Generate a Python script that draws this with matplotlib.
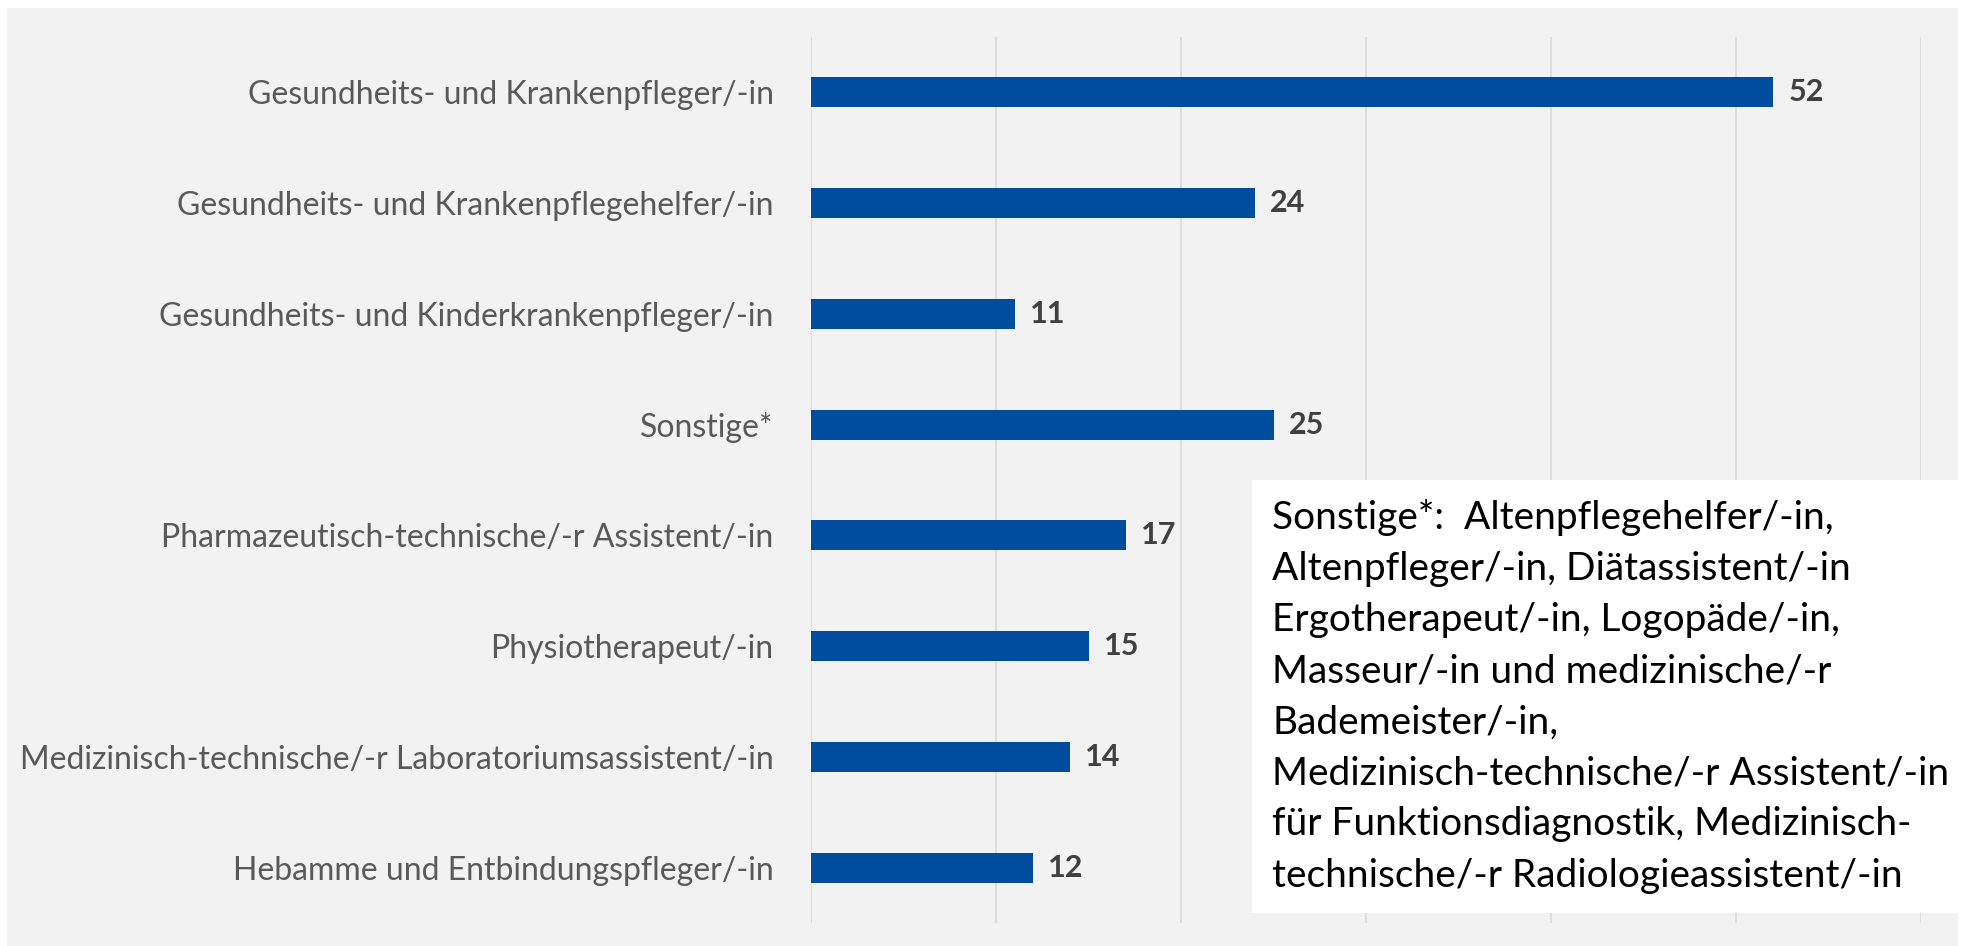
import matplotlib.pyplot as plt
from matplotlib.patches import Rectangle

categories = [
    "Gesundheits- und Krankenpfleger/-in",
    "Gesundheits- und Krankenpflegehelfer/-in",
    "Gesundheits- und Kinderkrankenpfleger/-in",
    "Sonstige*",
    "Pharmazeutisch-technische/-r Assistent/-in",
    "Physiotherapeut/-in",
    "Medizinisch-technische/-r Laboratoriumsassistent/-in",
    "Hebamme und Entbindungspfleger/-in",
]
values = [52, 24, 11, 25, 17, 15, 14, 12]
x_ticks = [0, 10, 20, 30, 40, 50, 60]

note_text = ("Sonstige*:  Altenpflegehelfer/-in,\n"
             "Altenpfleger/-in, Diätassistent/-in\n"
             "Ergotherapeut/-in, Logopäde/-in,\n"
             "Masseur/-in und medizinische/-r\n"
             "Bademeister/-in,\n"
             "Medizinisch-technische/-r Assistent/-in\n"
             "für Funktionsdiagnostik, Medizinisch-\n"
             "technische/-r Radiologieassistent/-in")

plt.rcParams['font.family'] = ['Lato', 'DejaVu Sans']

W, H = 1962, 946
fig = plt.figure(figsize=(W / 100, H / 100), dpi=100)
fig.patch.set_facecolor('white')
# grey chart area
fig.patches.append(Rectangle((7 / W, 0), (1958 - 7) / W, 1 - 8 / H,
                             transform=fig.transFigure, facecolor='#F2F2F2',
                             edgecolor='none', zorder=-2))

ax = fig.add_axes([811 / W, 1 - 923 / H, (1921 - 811) / W, (923 - 37) / H])
ax.set_zorder(1)
ax.set_facecolor('none')
ypos = list(range(len(categories)))
ax.barh(ypos, values, height=0.27, color='#004C9E', zorder=3)
ax.set_xlim(0, 60)
ax.set_ylim(len(categories) - 0.5, -0.5)
ax.set_xticks(x_ticks)
ax.set_xticklabels([])
ax.tick_params(axis='both', length=0)
ax.grid(axis='x', color='#D9D9D9', linewidth=1.2, zorder=0)
for s in ax.spines.values():
    s.set_visible(False)
ax.set_yticks(ypos)
ax.set_yticklabels(categories, fontsize=23, color='#595959')
ax.tick_params(axis='y', pad=27)

for y, v in zip(ypos, values):
    ax.annotate(str(v), (v, y), xytext=(11, 0), textcoords='offset points',
                ha='left', va='center', fontsize=22, fontweight='bold',
                color='#404040')

# note box
fig.patches.append(Rectangle((1252 / W, 1 - 913 / H), (1958 - 1252) / W, (913 - 480) / H,
                             transform=fig.transFigure, facecolor='white',
                             edgecolor='none', zorder=5))
fig.text(1272 / W, 1 - 499 / H, note_text, ha='left', va='top', fontsize=28,
         color='black', linespacing=1.52, zorder=6)

fig.savefig('out.png', dpi=100)
